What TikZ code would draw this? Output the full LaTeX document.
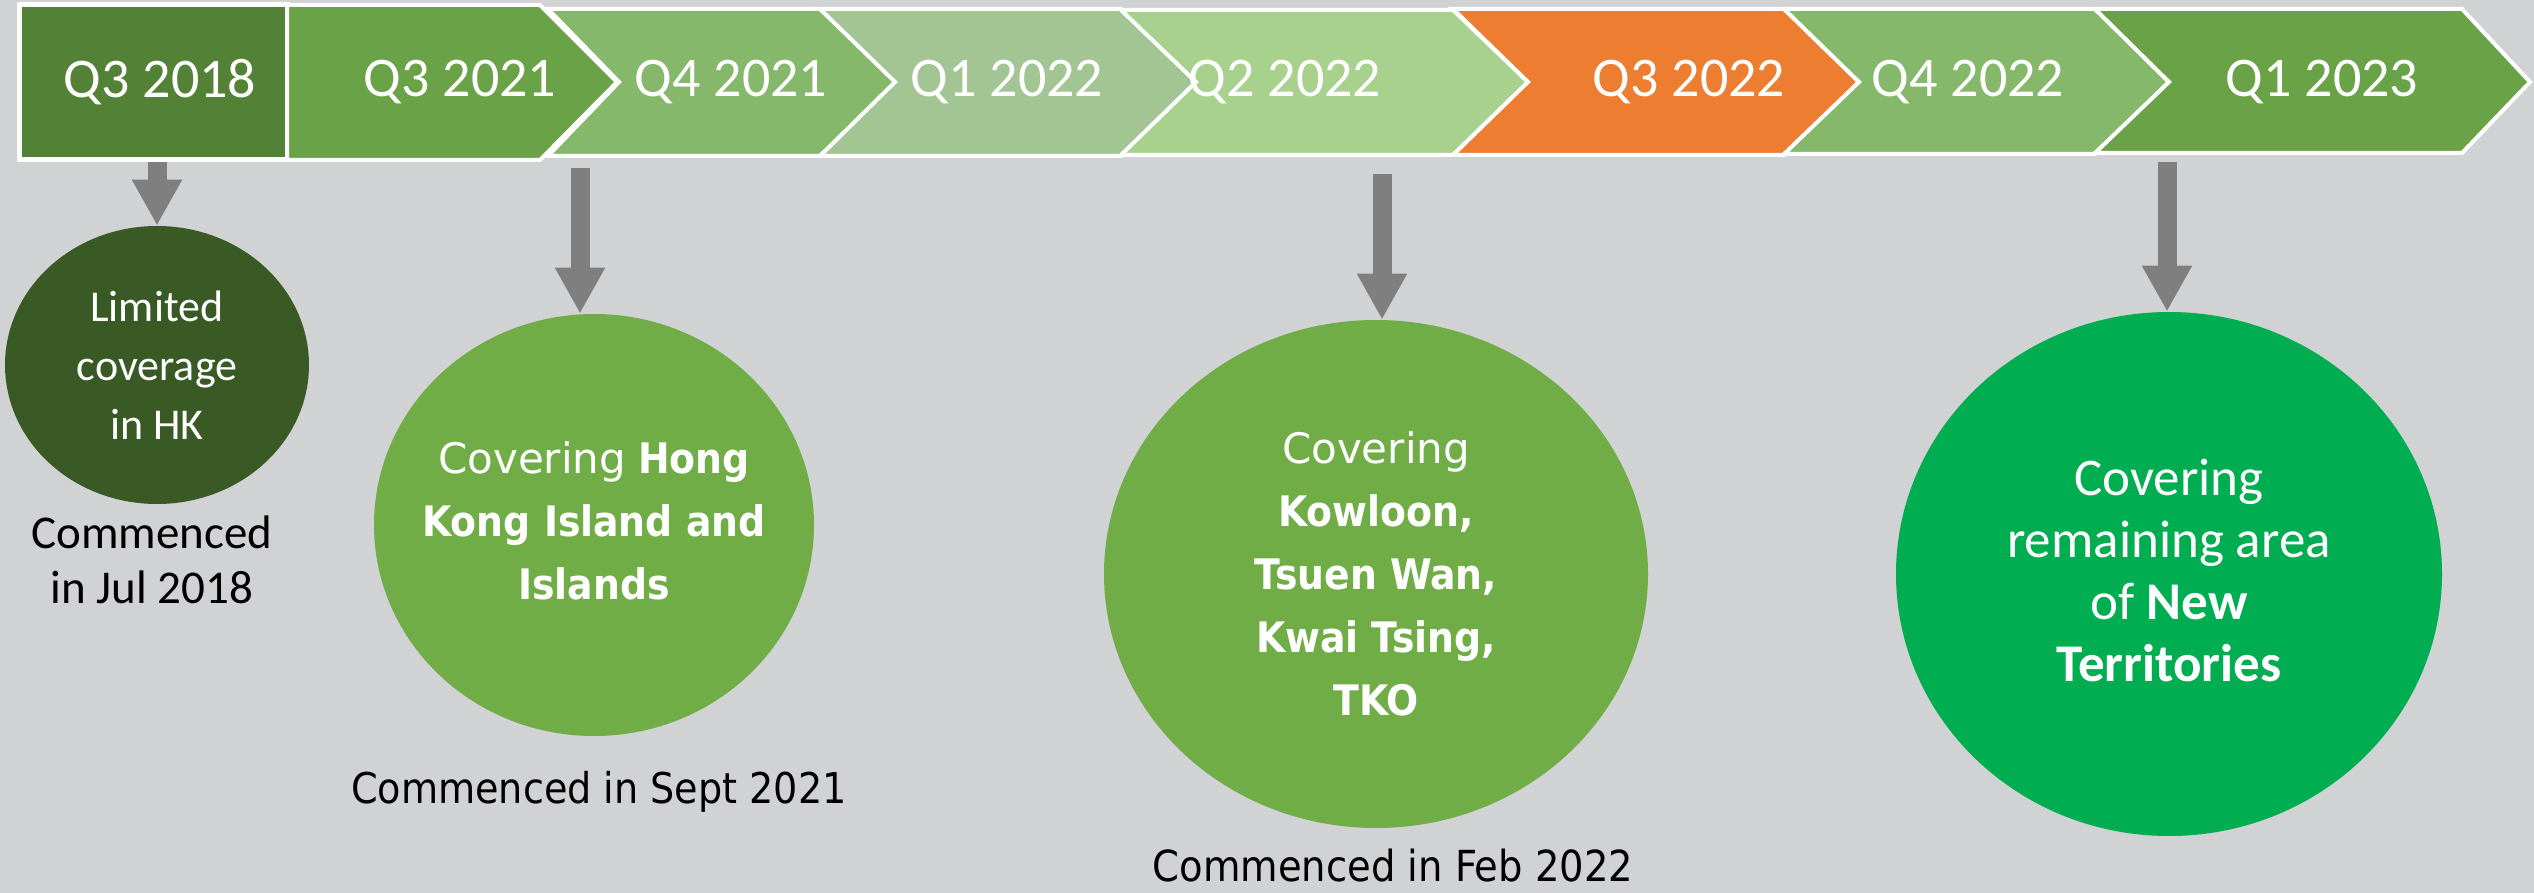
\documentclass[tikz,border=0pt]{standalone}
\usepackage{fontspec}
\setmainfont{Carlito}
\newfontfamily\tah{DejaVu Sans Condensed}
\newfontfamily\dvs{DejaVu Sans}
\usetikzlibrary{shapes.geometric,arrows.meta}
\definecolor{bg}{HTML}{D1D2D4}
\definecolor{cA}{HTML}{538135}
\definecolor{cB}{HTML}{6AA247}
\definecolor{cC}{HTML}{86B86C}
\definecolor{cD}{HTML}{A3C593}
\definecolor{cE}{HTML}{A9D18E}
\definecolor{cF}{HTML}{ED7D31}
\definecolor{eA}{HTML}{3A5A25}
\definecolor{eB}{HTML}{70AD47}
\definecolor{eC}{HTML}{00AD50}
\definecolor{agray}{HTML}{7F7F7F}
\begin{document}
\begin{tikzpicture}[x=0.5pt,y=-0.5pt,
  chev/.style={draw=white,line width=2pt,line join=miter},
  qlab/.style={text=white,font=\fontsize{28}{30}\selectfont,inner sep=0pt},
  bubble/.style={ellipse,draw=none,inner sep=0pt},
  btext/.style={text=white,align=center,inner sep=0pt},
  garrow/.style={draw=agray,line width=9.5pt,-{Triangle[width=23.5pt,length=23pt]}},
  note/.style={align=center,text=black,inner sep=0pt}]
\fill[bg] (0,0) rectangle (2534,893);
\useasboundingbox (0,0) rectangle (2534,893);
% timeline bar
\draw[chev,fill=cA,line width=2.5pt] (19,5) rectangle (287,160);
\draw[chev,fill=cB] (287,5) -- (540,5) -- (617,82) -- (540,160) -- (287,160) -- cycle;
\draw[chev,fill=cC] (548,9) -- (820,9) -- (898,82) -- (820,156) -- (548,156) -- (619,82) -- cycle;
\draw[chev,fill=cD] (820,9) -- (1121,9) -- (1196,82) -- (1121,156) -- (820,156) -- (895,82) -- cycle;
\draw[chev,fill=cE] (1121,10) -- (1453,10) -- (1528,82) -- (1453,155) -- (1121,155) -- (1196,82) -- cycle;
\draw[chev,fill=cF] (1453,9) -- (1784,9) -- (1859,82) -- (1784,155) -- (1453,155) -- (1528,82) -- cycle;
\draw[chev,fill=cC] (1784,9) -- (2095,9) -- (2169,82) -- (2095,154) -- (1784,154) -- (1859,82) -- cycle;
\draw[chev,fill=cB] (2095,9) -- (2462,9) -- (2530,82) -- (2462,153) -- (2095,153) -- (2169,82) -- cycle;
\node[qlab] (q1) at (160,82) {Q3 2018};
\node[qlab] (q2) at (460,82) {Q3 2021};
\node[qlab] (q3) at (731,82) {Q4 2021};
\node[qlab] (q4) at (1007,82) {Q1 2022};
\node[qlab] (q5) at (1285,82) {Q2 2022};
\node[qlab] (q6) at (1689,82) {Q3 2022};
\node[qlab] (q7) at (1968,82) {Q4 2022};
\node[qlab] (q8) at (2322,82) {Q1 2023};
% bubbles
\node[bubble,fill=eA,minimum width=152pt,minimum height=139pt] (e1) at (157,365) {};
\node[bubble,fill=eB,minimum width=220pt,minimum height=211pt] (e2) at (594,525) {};
\node[bubble,fill=eB,minimum width=272pt,minimum height=254pt] (e3) at (1376,574) {};
\node[bubble,fill=eC,minimum width=273pt,minimum height=262pt] (e4) at (2169,574) {};
\node[btext,font=\fontsize{22}{29.5}\selectfont] (t1) at (e1.center) {Limited\\coverage\\in HK};
\node[btext,font=\tah\fontsize{21}{31.5}\selectfont] (t2) at ([yshift=2pt]e2.center) {{\dvs Covering} \textbf{Hong}\\\textbf{Kong Island and}\\\textbf{Islands}};
\node[btext,font=\tah\fontsize{21}{31.5}\selectfont] (t3) at (e3.center) {{\dvs Covering}\\\textbf{Kowloon,}\\\textbf{Tsuen Wan,}\\\textbf{Kwai Tsing,}\\\textbf{TKO}};
\node[btext,font=\fontsize{26.5}{31}\selectfont] (t4) at ([yshift=2pt]e4.center) {Covering\\remaining area\\of \textbf{New}\\\textbf{Territories}};
% notes
\node[note,font=\fontsize{23.5}{27.5}\selectfont] (n1) at (152,560) {Commenced\\in Jul 2018};
\node[note,font=\tah\fontsize{21.2}{24}\selectfont] (n2) at (599,792) {Commenced in Sept 2021};
\node[note,font=\tah\fontsize{21.4}{24}\selectfont] (n3) at (1393,866) {Commenced in Feb 2022};
% arrows
\coordinate (a1) at (157,162);
\coordinate (a2) at (580,168);
\coordinate (a3) at (1382,174);
\coordinate (a4) at (2167,162);
\draw[garrow] (a1) -- (a1 |- e1.north);
\draw[garrow] (a2) -- (a2 |- e2.north);
\draw[garrow] (a3) -- (a3 |- e3.north);
\draw[garrow] (a4) -- (a4 |- e4.north);
\end{tikzpicture}
\end{document}
